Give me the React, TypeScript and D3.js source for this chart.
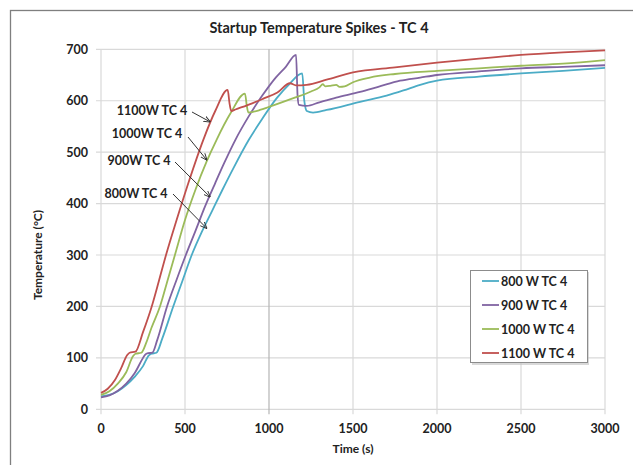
import React, { useEffect, useRef } from 'react';
import * as d3 from 'd3';

// time (s) and temperature (°C) for each run
const series800 = [
  [0, 25], [50, 28], [100, 35], [150, 47], [200, 63], [250, 84], [285, 105], [300, 108], [330, 110],
  [365, 138], [430, 200], [485, 250], [540, 300], [600, 345], [660, 385], [720, 425], [790, 470],
  [880, 524], [960, 565], [1046, 605], [1120, 632], [1198, 653], [1210, 600], [1225, 580], [1262, 577],
  [1343, 582], [1542, 598], [1700, 610], [1800, 620], [1900, 631], [2000, 639], [2250, 647], [2500, 653],
  [2750, 658], [3000, 664],
];
const series900 = [
  [0, 23], [50, 27], [100, 36], [150, 50], [200, 70], [245, 97], [262, 106], [280, 109], [305, 110],
  [335, 135], [393, 200], [450, 252], [505, 300], [560, 345], [620, 395], [680, 440], [735, 480],
  [800, 524], [880, 570], [960, 610], [1040, 645], [1100, 666], [1161, 689], [1170, 610], [1178, 592],
  [1224, 590], [1300, 597], [1400, 606], [1542, 617], [1650, 627], [1780, 639], [1900, 645],
  [2000, 650], [2250, 657], [2500, 663], [2750, 666], [3000, 669],
];
const series1000 = [
  [0, 28], [50, 35], [100, 50], [150, 72], [190, 103], [205, 108], [240, 110], [270, 130], [300, 158],
  [351, 200], [400, 255], [440, 300], [500, 368], [560, 425], [629, 482], [688, 524], [770, 575],
  [857, 614], [868, 590], [877, 577], [900, 578], [946, 582], [1000, 588], [1145, 605], [1250, 618],
  [1300, 626], [1320, 632], [1335, 628], [1365, 629], [1400, 631], [1420, 627], [1450, 628],
  [1500, 636], [1600, 645], [1750, 652], [2000, 658], [2250, 663], [2500, 668], [2750, 672], [3000, 679],
];
const series1100 = [
  [0, 32], [40, 40], [83, 57], [120, 80], [155, 105], [170, 110], [205, 112], [250, 150], [302, 200],
  [345, 250], [387, 300], [450, 368], [520, 440], [609, 524], [680, 580], [754, 621], [765, 595],
  [775, 580], [800, 583], [900, 595], [966, 604], [1050, 616], [1125, 634], [1160, 630], [1224, 631],
  [1343, 641], [1500, 655], [1750, 665], [2000, 674], [2250, 682], [2500, 689], [2750, 694], [3000, 698],
];

const legendNames = ['800 W TC 4', '900 W TC 4', '1000 W TC 4', '1100 W TC 4'];
const calloutNames = ['800W TC 4', '900W TC 4', '1000W TC 4', '1100W TC 4'];
// where each callout arrow touches its curve (time, temperature)
const calloutTargets = [[629, 352], [649, 413], [629, 485], [649, 559]];
const colors = ['#4bacc6', '#8064a2', '#9bbb59', '#c0504d'];
const xTicks = [0, 500, 1000, 1500, 2000, 2500, 3000];
const yTicks = [0, 100, 200, 300, 400, 500, 600, 700];

export default function App() {
  const ref = useRef<SVGSVGElement | null>(null);

  useEffect(() => {
    const svg = d3.select(ref.current);
    svg.selectAll('*').remove();
    const font = 'Lato, "Open Sans", sans-serif';

    const x = d3.scaleLinear().domain([0, 3000]).range([101, 605]);
    const y = d3.scaleLinear().domain([0, 700]).range([409.3, 49.3]);

    // outer chart frame (runs off the right and bottom edge)
    svg.append('rect')
      .attr('x', 10.5).attr('y', 10.5).attr('width', 660).attr('height', 480)
      .attr('fill', 'white').attr('stroke', '#7f7f7f').attr('stroke-width', 1.3);

    // grid
    const grid = svg.append('g');
    grid.selectAll('line.h').data(yTicks).enter().append('line')
      .attr('x1', x(0) - 5).attr('x2', x(3000))
      .attr('y1', d => y(d)).attr('y2', d => y(d))
      .attr('stroke', '#d9d9d9').attr('stroke-width', 1.2);
    grid.selectAll('line.v').data(xTicks).enter().append('line')
      .attr('x1', d => x(d)).attr('x2', d => x(d))
      .attr('y1', y(700)).attr('y2', y(0) + 5)
      .attr('stroke', d => (d === 1000 ? '#b5b5b5' : '#d9d9d9')).attr('stroke-width', 1.2);

    // tick labels
    svg.append('g').selectAll('text').data(yTicks).enter().append('text')
      .attr('x', 88).attr('y', d => y(d)).attr('dy', '0.36em')
      .attr('text-anchor', 'end').attr('font-family', font).attr('font-weight', 700)
      .attr('font-size', 12.5).attr('fill', '#222')
      .text(d => d);
    svg.append('g').selectAll('text').data(xTicks).enter().append('text')
      .attr('x', d => x(d)).attr('y', 428).attr('dy', '0.36em')
      .attr('text-anchor', 'middle').attr('font-family', font).attr('font-weight', 700)
      .attr('font-size', 12.5).attr('fill', '#222')
      .text(d => d);

    // titles
    svg.append('text').attr('x', 319).attr('y', 28).attr('dy', '0.36em')
      .attr('text-anchor', 'middle').attr('font-family', font).attr('font-weight', 700)
      .attr('font-size', 14.5).attr('fill', '#222').text('Startup Temperature Spikes - TC 4');
    svg.append('text').attr('x', 353).attr('y', 449).attr('dy', '0.36em')
      .attr('text-anchor', 'middle').attr('font-family', font).attr('font-weight', 700)
      .attr('font-size', 12).attr('fill', '#222').text('Time (s)');
    svg.append('text').attr('transform', 'translate(38,255) rotate(-90)').attr('dy', '0.36em')
      .attr('text-anchor', 'middle').attr('font-family', font).attr('font-weight', 700)
      .attr('font-size', 12).attr('fill', '#222').text('Temperature (°C)');

    // curves
    const line = d3.line<number[]>()
      .x(d => x(d[0])).y(d => y(d[1]))
      .curve(d3.curveMonotoneX);
    [series800, series900, series1000, series1100].forEach((s, i) => {
      svg.append('path').datum(s).attr('d', line)
        .attr('fill', 'none').attr('stroke', colors[i]).attr('stroke-width', 1.8)
        .attr('stroke-linejoin', 'round');
    });

    // callouts with arrows
    const defs = svg.append('defs');
    defs.append('marker').attr('id', 'arr').attr('viewBox', '0 0 10 10')
      .attr('refX', 9).attr('refY', 5).attr('markerWidth', 7).attr('markerHeight', 7)
      .attr('orient', 'auto')
      .append('path').attr('d', 'M0,1 L10,5 L0,9').attr('fill', 'none').attr('stroke', '#333').attr('stroke-width', 1.3);
    const labelPos = [[136, 193.5, 173, 194], [139, 160, 175, 162], [147, 133.5, 188, 137], [152, 110.5, 192, 112]];
    calloutNames.forEach((name, i) => {
      const [lx, ly, ax, ay] = labelPos[i];
      svg.append('text').attr('x', lx).attr('y', ly).attr('dy', '0.36em')
        .attr('text-anchor', 'middle').attr('font-family', font).attr('font-weight', 700)
        .attr('font-size', 12.5).attr('fill', '#222').text(name);
      svg.append('line')
        .attr('x1', ax).attr('y1', ay)
        .attr('x2', x(calloutTargets[i][0])).attr('y2', y(calloutTargets[i][1]))
        .attr('stroke', '#333').attr('stroke-width', 1).attr('marker-end', 'url(#arr)');
    });

    // legend
    const lg = svg.append('g');
    lg.append('rect').attr('x', 472).attr('y', 272).attr('width', 117).attr('height', 93)
      .attr('fill', '#bfbfbf').attr('opacity', 0.6);
    lg.append('rect').attr('x', 470.5).attr('y', 270.5).attr('width', 117).attr('height', 92)
      .attr('fill', 'white').attr('stroke', '#8c8c8c').attr('stroke-width', 1);
    legendNames.forEach((name, i) => {
      const ly = 281 + i * 24;
      lg.append('line').attr('x1', 482).attr('x2', 499).attr('y1', ly).attr('y2', ly)
        .attr('stroke', colors[i]).attr('stroke-width', 1.8);
      lg.append('text').attr('x', 501).attr('y', ly).attr('dy', '0.36em')
        .attr('font-family', font).attr('font-weight', 700).attr('font-size', 12.5)
        .attr('fill', '#222').text(name);
    });
  }, []);

  return (
    <svg ref={ref} width={633} height={465}
      style={{ position: 'absolute', left: 0, top: 0, background: 'white' }} />
  );
}
